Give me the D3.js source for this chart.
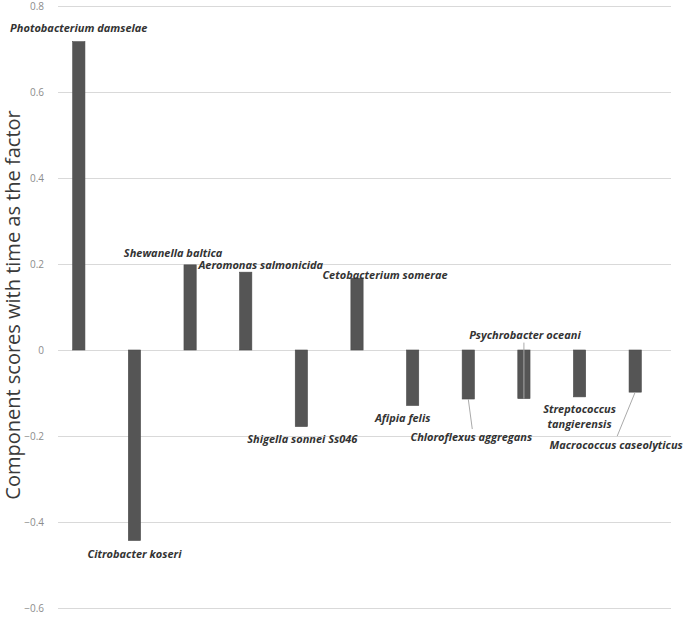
<!DOCTYPE html>
<html>
<head>
<meta charset="utf-8">
<script src="https://cdn.jsdelivr.net/npm/d3@7/dist/d3.min.js"></script>
<style>
    body { margin: 0; background: #fff; }
</style>
</head>
<body>
<div id="graph"></div>
<script>
var species = ["Photobacterium damselae", "Citrobacter koseri", "Shewanella baltica", "Aeromonas salmonicida",
    "Shigella sonnei Ss046", "Cetobacterium somerae", "Afipia felis", "Chloroflexus aggregans",
    "Psychrobacter oceani", "Streptococcus tangierensis", "Macrococcus caseolyticus"];
var scores = [0.717, -0.443, 0.198, 0.181, -0.178, 0.167, -0.129, -0.114, -0.113, -0.109, -0.098];
var yTicks = [-0.6, -0.4, -0.2, 0, 0.2, 0.4, 0.6, 0.8];

// label placement: offset from bar centre / bar end, in px; lead = leader line end
var labelLayout = [
    { dx: 0, dy: -10 },
    { dx: 0, dy: 18 },
    { dx: -17, dy: -8 },
    { dx: 15, dy: -3 },
    { dx: 1, dy: 16 },
    { dx: 28, dy: 1 },
    { dx: -10, dy: 17 },
    { dx: 3, dy: 42, lead: [4, 30] },
    { dx: 1, dy: -60, lead: [0, -56] },
    { dx: 0, dy: 16, lines: ["Streptococcus", "tangierensis"] },
    { dx: -19, dy: 57, lead: [-18, 44] }
];

var width = 685, height = 617;
var grid = { left: 58, right: 671, top: 6, bottom: 608 };

var svg = d3.select("#graph").append("svg")
    .attr("width", width)
    .attr("height", height);

var x = d3.scaleBand()
    .domain(species)
    .range([51, 663])
    .paddingInner(0.78)
    .paddingOuter(0.39);

var y = d3.scaleLinear()
    .domain([-0.6, 0.8])
    .range([grid.bottom, grid.top]);

// gridlines + tick labels
var axis = svg.append("g")
    .attr("transform", "translate(" + grid.left + ",0)")
    .call(d3.axisLeft(y).tickValues(yTicks).tickSize(-(grid.right - grid.left))
        .tickFormat(function (d) { return d === 0 ? "0" : d3.format(".1f")(d); }));
axis.select(".domain").remove();
axis.selectAll(".tick line").attr("stroke", "#d9d9d9").attr("stroke-width", 1);
axis.selectAll(".tick text")
    .attr("x", -14)
    .attr("fill", "#8c8c8c")
    .attr("font-family", "Open Sans")
    .attr("font-size", "10px");

// bars
svg.append("g").selectAll("rect")
    .data(scores)
    .enter().append("rect")
    .attr("x", function (d, i) { return x(species[i]); })
    .attr("width", x.bandwidth())
    .attr("y", function (d) { return y(Math.max(0, d)); })
    .attr("height", function (d) { return Math.abs(y(d) - y(0)); })
    .attr("fill", "#555555")
    .attr("stroke", "#4a4a4a")
    .attr("stroke-width", 0.6);

// labels
var labels = svg.append("g")
    .attr("font-family", "Open Sans")
    .attr("font-size", "11px")
    .attr("font-style", "italic")
    .attr("font-weight", "bold")
    .attr("fill", "#333");

scores.forEach(function (d, i) {
    var lay = labelLayout[i];
    var cx = x(species[i]) + x.bandwidth() / 2;
    var ey = y(d);
    if (lay.lead) {
        svg.append("line")
            .attr("x1", cx).attr("y1", ey)
            .attr("x2", cx + lay.lead[0]).attr("y2", ey + lay.lead[1])
            .attr("stroke", "#aaaaaa")
            .attr("stroke-width", 1);
    }
    var lines = lay.lines || [species[i]];
    var t = labels.append("text")
        .attr("text-anchor", "middle")
        .attr("x", cx + lay.dx)
        .attr("y", ey + lay.dy);
    lines.forEach(function (s, j) {
        t.append("tspan")
            .attr("x", cx + lay.dx)
            .attr("dy", j === 0 ? 0 : 15)
            .text(s);
    });
});

// axis title
svg.append("text")
    .attr("transform", "translate(20,305) rotate(-90)")
    .attr("text-anchor", "middle")
    .attr("font-family", "Open Sans")
    .attr("font-size", "20px")
    .attr("fill", "#3a3a3a")
    .text("Component scores with time as the factor");
</script>
</body>
</html>
